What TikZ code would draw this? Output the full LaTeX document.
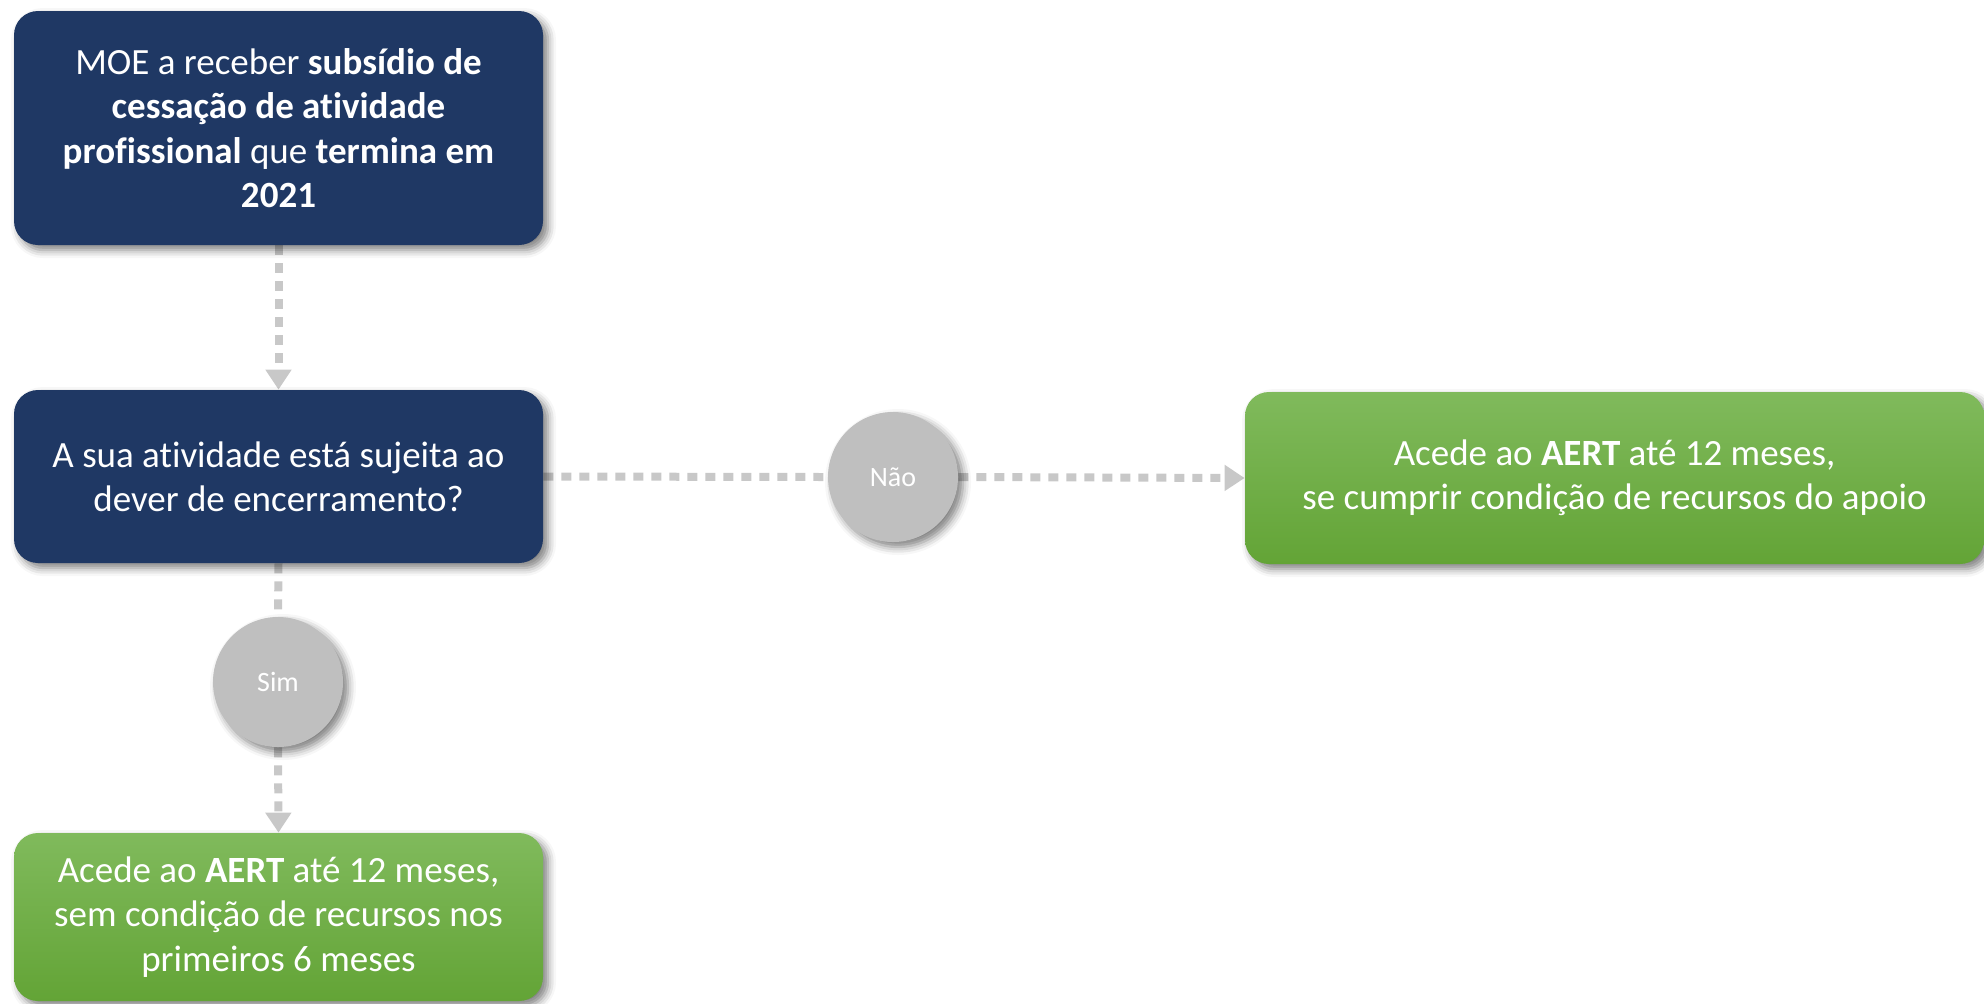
\documentclass[tikz,border=0pt]{standalone}
\usepackage{fontspec}
\setmainfont{Carlito}[Ligatures=NoCommon]
\usetikzlibrary{arrows.meta,shadows.blur,backgrounds}

\definecolor{navy}{RGB}{31,56,100}
\definecolor{greentop}{RGB}{128,186,92}
\definecolor{greenbot}{RGB}{99,164,54}
\definecolor{answergray}{RGB}{191,191,191}
\definecolor{flowgray}{RGB}{200,200,200}

\tikzset{
    boxshadow/.style={blur shadow={shadow xshift=2.5pt, shadow yshift=-2.5pt, shadow blur radius=4pt, shadow opacity=50}},
    darkbox/.style={rounded corners=12pt, fill=navy, text=white, align=center,
        minimum width=264.5pt, font=\fontsize{18.5}{22.2}\selectfont, boxshadow},
    greenbox/.style={rounded corners=12pt, top color=greentop, bottom color=greenbot, text=white, align=center,
        font=\fontsize{18.5}{22.2}\selectfont, boxshadow},
    answer/.style={circle, fill=answergray, text=white, minimum size=65pt, inner sep=0pt,
        font=\fontsize{14}{17}\selectfont, boxshadow},
    flow/.style={draw=flowgray, line width=4pt, dash pattern=on 5pt off 4pt},
    flowtip/.style={flow, -{Triangle[width=12.5pt,length=10pt]}}
}

\begin{document}
\begin{tikzpicture}[x=0.5pt, y=-0.5pt]
    \useasboundingbox (0,0) rectangle (1984,1003);

    \node[darkbox, minimum height=117pt] (moe) at (278.5,128)
        {MOE a receber \textbf{subsídio de}\\ \textbf{cessação de atividade}\\ \textbf{profissional} que \textbf{termina em}\\ \textbf{2021}};

    \node[darkbox, minimum height=86.5pt] (dever) at (278.5,476.5)
        {A sua atividade está sujeita ao\\ dever de encerramento?};

    \node[answer] (nao) at (893,477) {Não};
    \node[answer] (sim) at (278,682) {Sim};

    \node[greenbox, minimum width=369.5pt, minimum height=86pt] (aertnao) at (1614.5,478)
        {Acede ao \textbf{AERT} até 12 meses,\\ se cumprir condição de recursos do apoio};

    \node[greenbox, minimum width=264.5pt, minimum height=84pt] (aertsim) at (278.5,917)
        {Acede ao \textbf{AERT} até 12 meses,\\ sem condição de recursos nos\\ primeiros 6 meses};

    \begin{scope}[on background layer]
    \draw[flowtip] (moe.south) -- (dever.north);
    \draw[flow] (dever.east) -- (nao.west);
    \draw[flowtip] (nao.east) -- (aertnao.west);
    \draw[flow] (dever.south) -- (sim.north);
    \draw[flowtip] (sim.south) -- (aertsim.north);
    \end{scope}
\end{tikzpicture}
\end{document}
